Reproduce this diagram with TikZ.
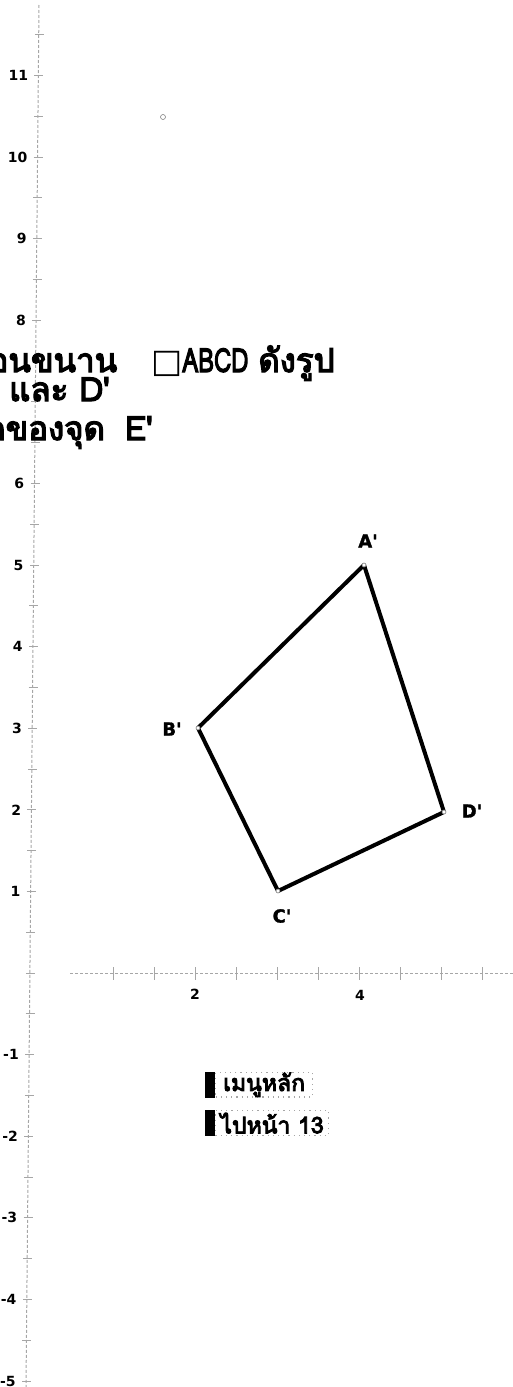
\documentclass[tikz,border=0pt]{standalone}
\usepackage{fontspec}
\newfontfamily\thaifont[Script=Thai,FakeBold=4]{Loma}
\newfontfamily\dvfont{DejaVu Sans}
\newfontfamily\dvheavy[FakeBold=1.5]{DejaVu Sans}
\begin{document}
\begin{tikzpicture}[x=0.5pt,y=-0.5pt,
  axisline/.style={gray!70,line width=0.5pt,dash pattern=on 1.5pt off 1pt},
  tickmark/.style={gray!70,line width=0.5pt},
  ticklabel/.style={font=\dvfont\bfseries\fontsize{7}{8}\selectfont,inner sep=0pt},
  vlabel/.style={font=\dvheavy\bfseries\fontsize{9}{10}\selectfont,inner sep=0pt},
  quad/.style={black,line width=2pt,line join=round},
  vmark/.style={circle,draw=gray,fill=white,line width=0.3pt,inner sep=0pt,minimum size=2pt},
  title/.style={font=\thaifont\fontsize{16.5}{20}\selectfont,inner sep=0pt,anchor=base east},
  btn/.style={draw=gray!70,dotted,line width=0.6pt,font=\thaifont\fontsize{11.5}{14}\selectfont,inner sep=0pt,anchor=north west},
  btnbar/.style={fill=black}
]
\useasboundingbox (0,0) rectangle (513,1387);
% y axis (slightly tilted as in the scan)
\coordinate (ytop) at (39,5);
\coordinate (ybot) at (26,1387);
\draw[axisline] (ytop) -- (ybot);
\foreach \v in {-5,-4.5,...,11.5}{
  \pgfmathsetmacro{\yy}{973-81.6*\v}
  \pgfmathsetmacro{\xx}{39-0.00951*(\yy-20)}
  \draw[tickmark] (\xx-4,\yy) -- (\xx+5,\yy);
}
\foreach \v in {11,10,9,8,6,5,4,3,2,1,-1,-2,-3,-4,-5}{
  \pgfmathsetmacro{\yy}{973-81.6*\v}
  \pgfmathsetmacro{\xx}{39-0.00951*(\yy-20)-10}
  \node[ticklabel,anchor=east] (yl\v) at (\xx,\yy) {\v};
}
% x axis
\coordinate (xl) at (70,973);
\coordinate (xr) at (513,973);
\draw[axisline] (xl) -- (xr);
\foreach \k in {0,...,9}{
  \draw[tickmark] (113+41*\k,967) -- (113+41*\k,980);
}
\node[ticklabel] (xl2) at (195,994) {2};
\node[ticklabel] (xl4) at (360,995) {4};
% small point
\node[circle,draw=gray,inner sep=0pt,minimum size=2.5pt,line width=0.3pt] (pt) at (163,117) {};
% title
\node[title] (t1) at (335,372) {อนขนาน\hspace{17pt}{\dvfont □}\scalebox{0.72}[1]{ABCD}\hspace{5pt}ดังรูป};
\node[title] (t2) at (110,401) {และ D'};
\node[title] (t3) at (153,440) {ดของจุด\hspace{10pt}E'};
% quadrilateral
\coordinate (A) at (364,565);
\coordinate (B) at (198,728);
\coordinate (C) at (278,891);
\coordinate (D) at (444,812);
\draw[quad] (A) -- (B) -- (C) -- (D) -- cycle;
\foreach \p in {A,B,C,D}{ \node[vmark] at (\p) {}; }
\node[vlabel] (lA) at (368,541) {A'};
\node[vlabel] (lB) at (172,729) {B'};
\node[vlabel] (lC) at (282,916) {C'};
\node[vlabel] (lD) at (472,811) {D'};
% buttons
\node[btn,minimum width=48.5pt,minimum height=10.5pt] (menu) at (215,1072) {เมนูหลัก};
\fill[btnbar] ([xshift=-5pt]menu.south west) rectangle (menu.north west);
\node[btn,minimum width=56.5pt,minimum height=12.5pt] (next) at (215,1110) {ไปหน้า 13};
\fill[btnbar] ([xshift=-5pt]next.south west) rectangle (next.north west);
\end{tikzpicture}
\end{document}
